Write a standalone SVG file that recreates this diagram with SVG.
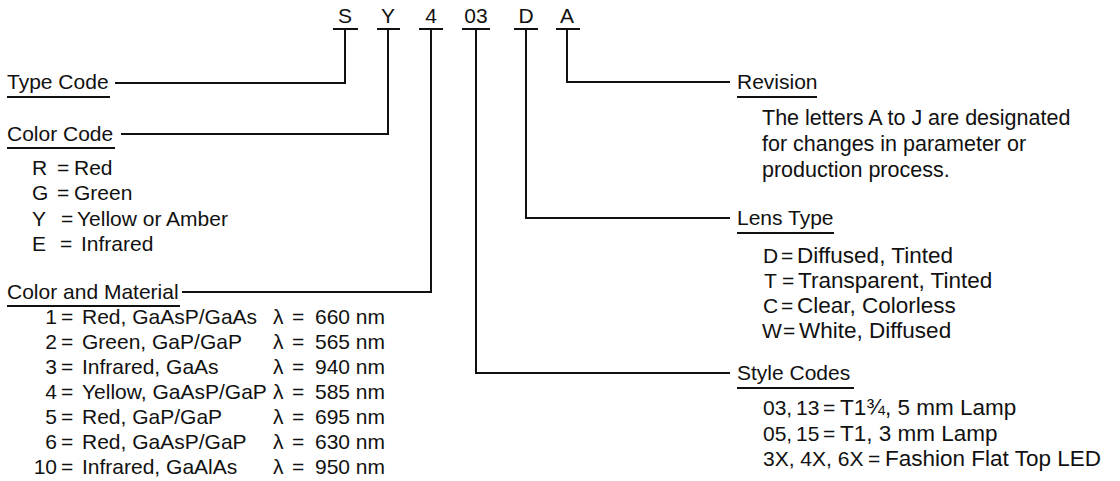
<svg xmlns="http://www.w3.org/2000/svg" width="1120" height="481" viewBox="0 0 1120 481">
<style>
text{font-family:"Liberation Sans",Arial,sans-serif;font-size:21px;fill:#111}
.c{text-anchor:middle}
.e{text-anchor:end}
.v{font-size:21.5px}
.w{font-size:22.5px}
.ln{fill:none;stroke:#111;stroke-width:2}
.ul{stroke:#111;stroke-width:1.8}
</style>
<rect width="1120" height="481" fill="#fff"/>
<g id="code">
<text class="c" x="345" y="23">S</text>
<text class="c" x="388" y="23">Y</text>
<text class="c" x="431" y="23">4</text>
<text class="c" x="476" y="23">03</text>
<text class="c" x="526" y="23">D</text>
<text class="c" x="567" y="23">A</text>
<path class="ul" d="M333,29H358M377,29H400M419,29H443M462,29H490M514,29H538M556,29H580"/>
</g>
<g id="connectors">
<path class="ln" d="M345,29V83H115"/>
<path class="ln" d="M388,29V134H121"/>
<path class="ln" d="M431,29V292H182"/>
<path class="ln" d="M476,29V373H730"/>
<path class="ln" d="M526,29V218H730"/>
<path class="ln" d="M567,29V82H730"/>
</g>
<g id="type-code">
<text x="7" y="89">Type Code</text>
<path class="ul" d="M7,97H110"/>
</g>
<g id="color-code">
<text x="7" y="141">Color Code</text>
<path class="ul" d="M7,148H115"/>
<text x="32" y="175">R</text><text x="57" y="175">=</text><text x="74" y="175">Red</text>
<text x="32" y="200">G</text><text x="57" y="200">=</text><text x="74" y="200">Green</text>
<text x="32" y="226">Y</text><text x="61" y="226">=</text><text x="77" y="226">Yellow or Amber</text>
<text x="32" y="251">E</text><text x="60" y="251">=</text><text x="81" y="251">Infrared</text>
</g>
<g id="color-material">
<text x="7" y="299">Color and Material</text>
<path class="ul" d="M7,306H180"/>
<g>
<text class="e" x="57" y="324">1</text><text x="61" y="324">=</text><text x="82" y="324">Red, GaAsP/GaAs</text><text x="273" y="324">λ</text><text x="292" y="324">=</text><text x="315" y="324">660 nm</text>
<text class="e" x="57" y="349">2</text><text x="61" y="349">=</text><text x="82" y="349">Green, GaP/GaP</text><text x="273" y="349">λ</text><text x="292" y="349">=</text><text x="315" y="349">565 nm</text>
<text class="e" x="57" y="374">3</text><text x="61" y="374">=</text><text x="82" y="374">Infrared, GaAs</text><text x="273" y="374">λ</text><text x="292" y="374">=</text><text x="315" y="374">940 nm</text>
<text class="e" x="57" y="399">4</text><text x="61" y="399">=</text><text x="82" y="399">Yellow, GaAsP/GaP</text><text x="273" y="399">λ</text><text x="292" y="399">=</text><text x="315" y="399">585 nm</text>
<text class="e" x="57" y="424">5</text><text x="61" y="424">=</text><text x="82" y="424">Red, GaP/GaP</text><text x="273" y="424">λ</text><text x="292" y="424">=</text><text x="315" y="424">695 nm</text>
<text class="e" x="57" y="449">6</text><text x="61" y="449">=</text><text x="82" y="449">Red, GaAsP/GaP</text><text x="273" y="449">λ</text><text x="292" y="449">=</text><text x="315" y="449">630 nm</text>
<text class="e" x="57" y="474">10</text><text x="61" y="474">=</text><text x="82" y="474">Infrared, GaAlAs</text><text x="273" y="474">λ</text><text x="292" y="474">=</text><text x="315" y="474">950 nm</text>
</g>
</g>
<g id="revision">
<text x="737" y="89">Revision</text>
<path class="ul" d="M737,97H817"/>
<text class="v" x="762" y="125">The letters A to J are designated</text>
<text class="v" x="762" y="151">for changes in parameter or</text>
<text class="v" x="762" y="177">production process.</text>
</g>
<g id="lens-type">
<text x="737" y="225">Lens Type</text>
<path class="ul" d="M737,233H834"/>
<text x="763" y="263">D</text><text x="781" y="263">=</text><text class="w" x="797" y="263">Diffused, Tinted</text>
<text x="764" y="288">T</text><text x="782" y="288">=</text><text class="w" x="798" y="288">Transparent, Tinted</text>
<text x="763" y="313">C</text><text x="781" y="313">=</text><text class="w" x="797" y="313">Clear, Colorless</text>
<text x="762" y="338">W</text><text x="783" y="338">=</text><text class="w" x="799" y="338">White, Diffused</text>
</g>
<g id="style-codes">
<text x="737" y="380">Style Codes</text>
<path class="ul" d="M737,388H854"/>
<text x="763" y="415">03,<tspan x="796">13</tspan></text><text x="823" y="415">=</text><text class="w" x="840" y="415">T1¾, 5 mm Lamp</text>
<text x="763" y="441">05,<tspan x="796">15</tspan></text><text x="823" y="441">=</text><text class="w" x="840" y="441">T1, 3 mm Lamp</text>
<text x="763" y="466">3X, 4X, 6X</text><text x="868" y="466">=</text><text class="w" x="885" y="466">Fashion Flat Top LED</text>
</g>
</svg>
